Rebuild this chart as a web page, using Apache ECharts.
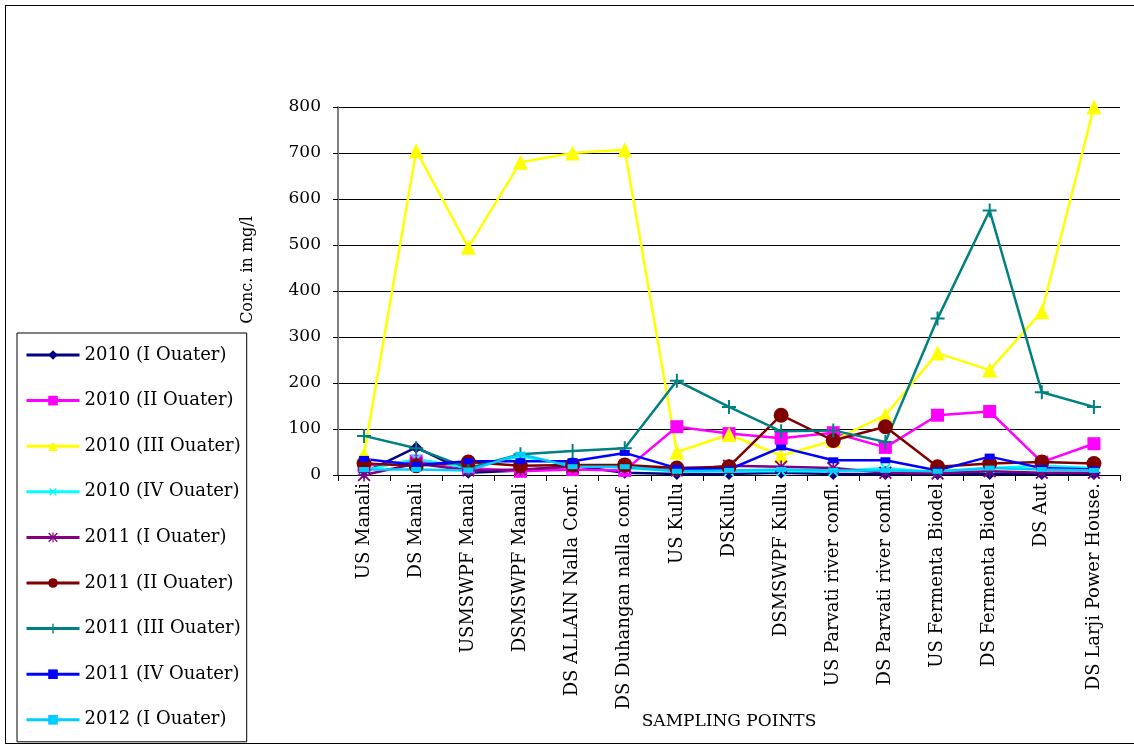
<!DOCTYPE html>
<html>
<head>
<meta charset="utf-8">
<script src="https://cdn.jsdelivr.net/npm/echarts@6/dist/echarts.min.js"></script>
<style>
  html, body { margin: 0; padding: 0; background: #fff; overflow: hidden; }
  #wrap { position: relative; width: 1134px; height: 744px; overflow: hidden; }
  #main { width: 1134px; height: 744px; }
  #frame { position: absolute; left: 5px; top: 5px; width: 1140px; height: 737px;
           border-left: 1px solid #000; border-top: 1px solid #000; border-bottom: 1px solid #000;
           pointer-events: none; }
</style>
</head>
<body>
<div id="wrap">
  <div id="main"></div>
  <div id="frame"></div>
</div>
<script>
'use strict'

let categories = ['US Manali', 'DS Manali', 'USMSWPF Manali', 'DSMSWPF Manali', 'DS ALLAIN Nalla Conf.',
    'DS Duhangan nalla conf.', 'US Kullu', 'DSKullu', 'DSMSWPF Kullu', 'US Parvati river confl.',
    'DS Parvati river confl.', 'US Fermenta Biodel', 'DS Fermenta Biodel', 'DS Aut', 'DS Larji Power House.'];

let q2010_1 = [5, 60, 5, 10, 20, 5, 2, 2, 5, 2, 2, 2, 2, 2, 2];
let q2010_2 = [20, 30, 15, 8, 12, 10, 105, 90, 80, 92, 60, 130, 138, 28, 68];
let q2010_3 = [45, 705, 495, 680, 700, 707, 50, 88, 42, 75, 130, 265, 228, 355, 800];
let q2010_4 = [10, 35, 15, 40, 22, 15, 8, 8, 8, 8, 15, 5, 15, 20, 15];
let q2011_1 = [0, 25, 10, 12, 18, 18, 10, 20, 18, 15, 5, 3, 8, 5, 5];
let q2011_2 = [25, 20, 28, 20, 22, 22, 15, 18, 130, 75, 105, 18, 25, 28, 25];
let q2011_3 = [85, 58, 15, 45, 52, 58, 205, 148, 95, 97, 72, 340, 575, 180, 148];
let q2011_4 = [35, 22, 30, 30, 30, 48, 15, 12, 60, 32, 32, 10, 40, 15, 12];
let q2012_1 = [12, 12, 10, 45, 18, 18, 8, 10, 12, 10, 10, 8, 15, 12, 10];

let yTicks = { min: 0, max: 800, interval: 100 };

let plusPath = 'path://M4.3,0H5.7V4.3H10V5.7H5.7V10H4.3V5.7H0V4.3H4.3Z';
let starPath = 'path://M4.4,0H5.6V4.4H10V5.6H5.6V10H4.4V5.6H0V4.4H4.4Z' +
    'M1,0L5,4L9,0L10,1L6,5L10,9L9,10L5,6L1,10L0,9L4,5L0,1Z';

let font = 'DejaVu Serif';

function mkSeries(name, data, color, symbol, size, extra) {
    let s = {
        name: name,
        type: 'line',
        data: data,
        symbol: symbol,
        symbolSize: size,
        lineStyle: { color: color, width: 2.5 },
        itemStyle: { color: color },
        emphasis: { disabled: true }
    };
    return Object.assign(s, extra || {});
}

let chart = echarts.init(document.getElementById('main'));

let option = {
    animation: false,
    backgroundColor: '#fff',
    textStyle: { fontFamily: font, color: '#000' },
    legend: {
        orient: 'vertical',
        left: 17,
        top: 333,
        padding: [12, 6, 12, 8],
        itemGap: 25.6,
        itemWidth: 53,
        itemHeight: 12,
        borderColor: '#000',
        borderWidth: 1,
        lineStyle: { width: 3 },
        textStyle: { fontFamily: font, fontSize: 18, color: '#000', lineHeight: 20 },
        data: ['2010 (I Ouater)', '2010 (II Ouater)', '2010 (III Ouater)', '2010 (IV Ouater)',
            '2011 (I Ouater)', '2011 (II Ouater)', '2011 (III Ouater)', '2011 (IV Ouater)', '2012 (I Ouater)']
    },
    grid: { left: 338, right: 14, top: 107, bottom: 269 },
    xAxis: {
        type: 'category',
        data: categories,
        boundaryGap: true,
        name: 'SAMPLING POINTS',
        nameLocation: 'middle',
        nameGap: 233,
        nameTextStyle: { fontFamily: font, fontSize: 17, color: '#000' },
        axisLine: { lineStyle: { color: '#000', width: 1 } },
        axisTick: { show: true, length: 6, lineStyle: { color: '#000' } },
        axisLabel: { interval: 0, rotate: 90, margin: 8, fontFamily: font, fontSize: 18, color: '#000' }
    },
    yAxis: {
        type: 'value',
        min: yTicks.min,
        max: yTicks.max,
        interval: yTicks.interval,
        name: 'Conc. in mg/l',
        nameLocation: 'middle',
        nameGap: 82,
        nameTextStyle: { fontFamily: font, fontSize: 16, color: '#000', padding: [0, 0, 0, 42] },
        axisLine: { show: true, lineStyle: { color: '#808080', width: 2 } },
        axisTick: { show: true, length: 5, lineStyle: { color: '#000' } },
        axisLabel: { margin: 17, fontFamily: font, fontSize: 17, color: '#000' },
        splitLine: { show: true, lineStyle: { color: '#000', width: 1 } }
    },
    series: [
        mkSeries('2010 (I Ouater)', q2010_1, '#000080', 'diamond', 12),
        mkSeries('2010 (II Ouater)', q2010_2, '#ff00ff', 'rect', 13),
        mkSeries('2010 (III Ouater)', q2010_3, '#ffff00', 'triangle', 15),
        mkSeries('2010 (IV Ouater)', q2010_4, '#00ffff', plusPath, 13, { symbolRotate: 45 }),
        mkSeries('2011 (I Ouater)', q2011_1, '#800080', starPath, 13),
        mkSeries('2011 (II Ouater)', q2011_2, '#800000', 'circle', 15),
        mkSeries('2011 (III Ouater)', q2011_3, '#008080', plusPath, 14),
        mkSeries('2011 (IV Ouater)', q2011_4, '#0000ff', 'rect', [10, 6]),
        mkSeries('2012 (I Ouater)', q2012_1, '#00ccff', 'rect', [10, 5])
    ]
};

chart.setOption(option);
</script>
</body>
</html>
